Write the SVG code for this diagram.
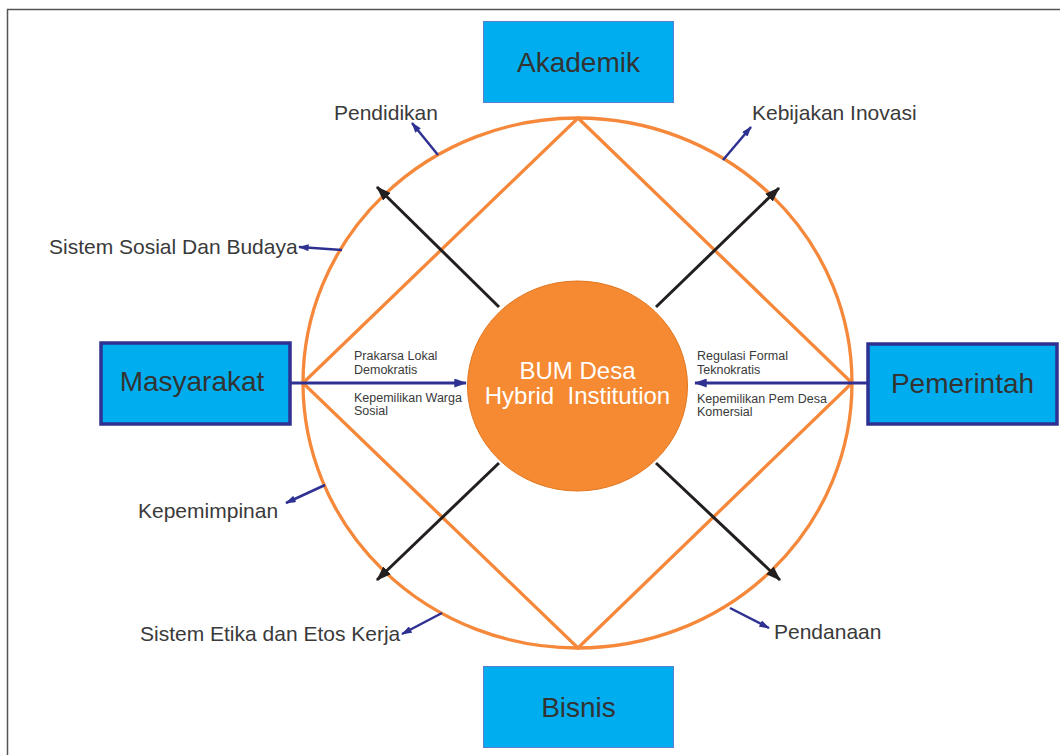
<svg xmlns="http://www.w3.org/2000/svg" width="1060" height="755" viewBox="0 0 1060 755">
<defs>
<style>
.lbl{font-family:"Liberation Sans",Arial,sans-serif;fill:#3a3a3a;font-size:21px}
.sm{font-family:"Liberation Sans",Arial,sans-serif;fill:#3a3a3a;font-size:12.5px}
.box{fill:#00AEEF}
.thin{stroke:#5B7FD0;stroke-width:1}
.thick{stroke:#2E3192;stroke-width:3.5}
.bt{font-family:"Liberation Sans",Arial,sans-serif;fill:#333333;font-size:28px;text-anchor:middle}
.or{fill:none;stroke:#F5883A;stroke-width:3.3}
.blk{stroke:#231F20;stroke-width:3;fill:none}
.nv{stroke:#2E3192;stroke-width:3;fill:none}
.nvs{stroke:#2E3192;stroke-width:2.5;fill:none}
</style>
<marker id="ab" viewBox="0 0 14 10" refX="13" refY="5" markerWidth="15" markerHeight="11" markerUnits="userSpaceOnUse" orient="auto"><path d="M0,0 L14,5 L0,10 Z" fill="#231F20"/></marker>
<marker id="an" viewBox="0 0 14 10" refX="13" refY="5" markerWidth="14" markerHeight="9" markerUnits="userSpaceOnUse" orient="auto"><path d="M0,0 L14,5 L0,10 Z" fill="#2E3192"/></marker>
<marker id="as" viewBox="0 0 12 8" refX="11" refY="4" markerWidth="11" markerHeight="7" markerUnits="userSpaceOnUse" orient="auto"><path d="M0,0 L12,4 L0,8 Z" fill="#2E3192"/></marker>
</defs>
<rect width="1060" height="755" fill="#ffffff"/>
<path d="M7.5,755 V9.5 H1060" fill="none" stroke="#555555" stroke-width="1.5"/>

<g id="ring">
<ellipse class="or" cx="577.5" cy="383" rx="274.5" ry="265"/>
<polygon class="or" points="578,118 852,383 578,648 303,383"/>
</g>

<g id="connectors">
<line class="blk" x1="499" y1="307" x2="377" y2="187" marker-end="url(#ab)"/>
<line class="blk" x1="656" y1="307" x2="779" y2="188" marker-end="url(#ab)"/>
<line class="blk" x1="499" y1="463" x2="377" y2="580" marker-end="url(#ab)"/>
<line class="blk" x1="656" y1="463" x2="780" y2="580" marker-end="url(#ab)"/>
<line class="nv" x1="291" y1="383" x2="466" y2="383" marker-end="url(#an)"/>
<line class="nv" x1="867" y1="383" x2="695" y2="383" marker-end="url(#an)"/>
<line class="nvs" x1="438" y1="155" x2="412" y2="123" marker-end="url(#as)"/>
<line class="nvs" x1="342" y1="250" x2="299" y2="247" marker-end="url(#as)"/>
<line class="nvs" x1="723" y1="160" x2="751" y2="127" marker-end="url(#as)"/>
<line class="nvs" x1="325" y1="485" x2="286" y2="503" marker-end="url(#as)"/>
<line class="nvs" x1="442" y1="613" x2="402" y2="634" marker-end="url(#as)"/>
<line class="nvs" x1="730" y1="608" x2="769" y2="628" marker-end="url(#as)"/>
</g>

<g id="center">
<ellipse cx="577.5" cy="386" rx="110" ry="105" fill="#F58A33" stroke="#E2761F" stroke-width="1"/>
<text x="577.5" y="379" font-family="Liberation Sans,Arial,sans-serif" font-size="24" fill="#ffffff" text-anchor="middle">BUM Desa</text>
<text x="577.5" y="404" font-family="Liberation Sans,Arial,sans-serif" font-size="24" fill="#ffffff" text-anchor="middle" xml:space="preserve">Hybrid  Institution</text>
</g>

<g id="akademik">
<rect class="box thin" x="483.5" y="21.5" width="190" height="81"/>
<text class="bt" x="578.5" y="72">Akademik</text>
</g>
<g id="masyarakat">
<rect class="box thick" x="101" y="343" width="189" height="81"/>
<text class="bt" x="192" y="391">Masyarakat</text>
</g>
<g id="pemerintah">
<rect class="box thick" x="868" y="344" width="189" height="80"/>
<text class="bt" x="962.5" y="393">Pemerintah</text>
</g>
<g id="bisnis">
<rect class="box thin" x="483.5" y="666.5" width="190" height="81"/>
<text class="bt" x="578.5" y="717">Bisnis</text>
</g>

<g id="labels">
<text class="lbl" x="334" y="120">Pendidikan</text>
<text class="lbl" x="752" y="120">Kebijakan Inovasi</text>
<text class="lbl" x="49" y="254">Sistem Sosial Dan Budaya</text>
<text class="lbl" x="138" y="518">Kepemimpinan</text>
<text class="lbl" x="140" y="641">Sistem Etika dan Etos Kerja</text>
<text class="lbl" x="774" y="639">Pendanaan</text>
<text class="sm" x="354" y="360">Prakarsa Lokal</text>
<text class="sm" x="354" y="374">Demokratis</text>
<text class="sm" x="354" y="402">Kepemilikan Warga</text>
<text class="sm" x="354" y="415">Sosial</text>
<text class="sm" x="697" y="360">Regulasi Formal</text>
<text class="sm" x="697" y="374">Teknokratis</text>
<text class="sm" x="697" y="403">Kepemilikan Pem Desa</text>
<text class="sm" x="697" y="416">Komersial</text>
</g>
</svg>
